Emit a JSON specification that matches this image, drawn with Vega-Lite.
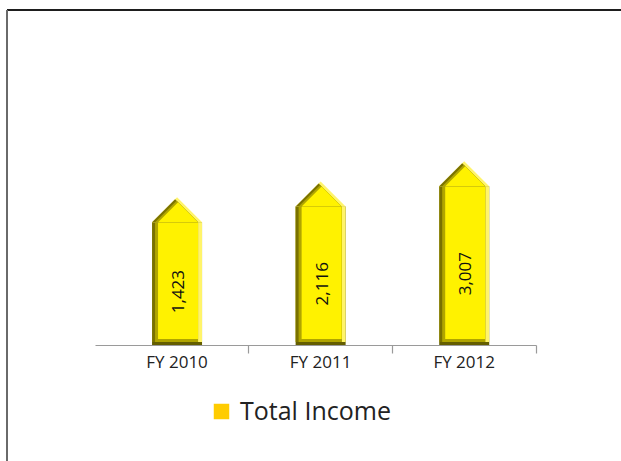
{
  "$schema": "https://vega.github.io/schema/vega-lite/v6.json",
  "autosize": {"type": "none"},
  "width": 615,
  "height": 452,
  "padding": {"left": 6, "top": 9, "right": 0, "bottom": 0},
  "background": "white",
  "config": {"view": {"stroke": null}, "font": "Open Sans"},
  "data": {
    "values": [
      {"year": "FY 2010", "value": 1423, "series": "Total Income"},
      {"year": "FY 2011", "value": 2116, "series": "Total Income"},
      {"year": "FY 2012", "value": 3007, "series": "Total Income"}
    ]
  },
  "layer": [
    {
      "mark": {"type": "square", "opacity": 0, "filled": true},
      "encoding": {
        "x": {
          "field": "year", "type": "nominal",
          "axis": {"orient": "top", "domain": true, "domainColor": "#1e1e1e", "domainWidth": 2, "translate": 1, "ticks": false, "labels": false, "title": null, "grid": false}
        },
        "color": {
          "field": "series", "type": "nominal",
          "scale": {"range": ["#FFCC00"]},
          "legend": {
            "title": null, "orient": "none", "legendX": 203, "legendY": 390,
            "padding": 0, "symbolType": "square", "symbolSize": 240, "symbolOpacity": 1,
            "symbolStrokeWidth": 0, "labelFontSize": 25, "labelFont": "Open Sans",
            "labelColor": "#222222", "labelOffset": 6
          }
        }
      }
    },
    {
      "encoding": {
        "x": {
          "field": "year", "type": "nominal",
          "scale": {"type": "band", "range": [89, 530], "paddingInner": 0, "paddingOuter": 0.0357, "align": 1},
          "axis": {
            "orient": "bottom", "offset": -116, "title": null, "labelAngle": 0,
            "domainColor": "#9a9a9a", "domainWidth": 1.2, "tickColor": "#9a9a9a", "tickWidth": 1.2, "tickSize": 8,
            "bandPosition": 1, "labelFontSize": 17, "labelFont": "Open Sans", "labelColor": "#222222", "labelPadding": 1, "grid": false
          }
        },
        "y": {
          "field": "value", "type": "quantitative",
          "scale": {"domain": [-9145, 10855], "zero": false, "nice": false},
          "axis": {"orient": "left", "domain": true, "domainColor": "#6a6a6a", "domainWidth": 2, "translate": 1, "ticks": false, "labels": false, "grid": false, "title": null}
        }
      },
      "layer": [
        {"mark": {"type": "bar", "width": 50, "color": "#645e00"}, "encoding": {"y2": {"datum": -4012}}},
        {"mark": {"type": "bar", "width": 50, "color": "#fff46a", "y2Offset": -3}, "encoding": {"y2": {"datum": -4012}}},
        {"mark": {"type": "bar", "width": 46, "xOffset": -2, "color": "#7a7200", "y2Offset": -3}, "encoding": {"y2": {"datum": -4012}}},
        {"mark": {"type": "bar", "width": 43, "xOffset": -0.5, "color": "#b0a500", "y2Offset": -3}, "encoding": {"y2": {"datum": -4012}}},
        {"mark": {"type": "bar", "width": 40, "xOffset": 1, "color": "#fff200", "y2Offset": -6}, "encoding": {"y2": {"datum": -4012}}},
        {"mark": {"type": "point", "shape": "M-1,0L0,-1L1,0Z", "size": 2500, "filled": true, "opacity": 1, "strokeWidth": 0, "color": "#fff46a"}},
        {"mark": {"type": "point", "shape": "M-1,0L0,-1L1,0Z", "size": 2116, "xOffset": -2, "filled": true, "opacity": 1, "strokeWidth": 0, "color": "#7a7200"}},
        {"mark": {"type": "point", "shape": "M-1,0L0,-1L1,0Z", "size": 1849, "xOffset": -0.5, "filled": true, "opacity": 1, "strokeWidth": 0, "color": "#b0a500"}},
        {"mark": {"type": "point", "shape": "M-1,0L0,-1L1,0Z", "size": 1600, "xOffset": 1, "filled": true, "opacity": 1, "strokeWidth": 0, "color": "#fff200"}}
      ]
    },
    {
      "mark": {"type": "text", "angle": 270, "align": "center", "baseline": "middle", "fontSize": 17, "font": "Open Sans", "color": "#111111", "dy": 2, "dx": -3},
      "encoding": {
        "x": {
          "field": "year", "type": "nominal",
          "scale": {"type": "band", "range": [89, 530], "paddingInner": 0, "paddingOuter": 0.0357, "align": 1},
          "axis": null
        },
        "y": {
          "field": "value", "type": "quantitative",
          "scale": {"domain": [-13835, 26165], "zero": false, "nice": false},
          "axis": null
        },
        "text": {"field": "value", "type": "quantitative", "format": ","}
      }
    }
  ],
  "resolve": {
    "scale": {"x": "independent", "y": "independent"},
    "axis": {"x": "independent", "y": "independent"}
  }
}
